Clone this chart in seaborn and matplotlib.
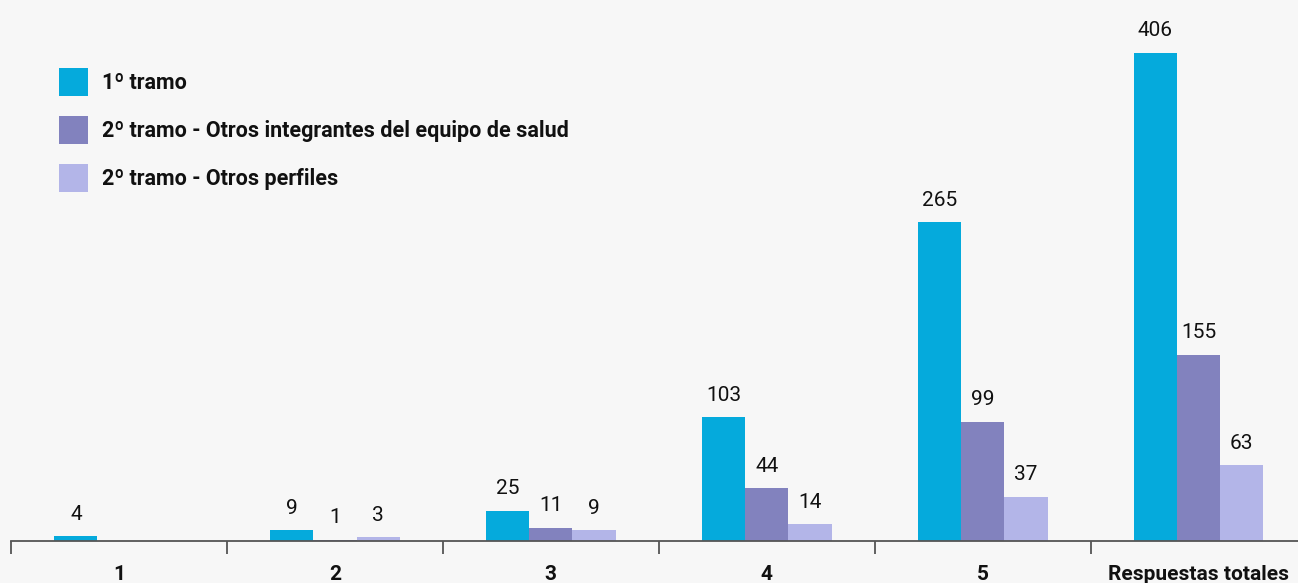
import numpy as np
import pandas as pd
import matplotlib
matplotlib.use("Agg")
import matplotlib.pyplot as plt
from matplotlib.patches import Patch
from matplotlib.ticker import FixedLocator
import seaborn as sns

categories = ["1", "2", "3", "4", "5", "Respuestas totales"]
series = ["1º tramo",
          "2º tramo - Otros integrantes del equipo de salud",
          "2º tramo - Otros perfiles"]
tramo1 = [4, 9, 25, 103, 265, 406]
tramo2_equipo = [np.nan, 1, 11, 44, 99, 155]
tramo2_otros = [np.nan, 3, 9, 14, 37, 63]
colors = ["#05AADC", "#8282BE", "#B3B5E8"]

sns.set_theme(style="white")
plt.rcParams["font.family"] = ["Roboto", "DejaVu Sans"]

df = pd.DataFrame({
    "cat": categories * 3,
    "serie": [series[0]] * 6 + [series[1]] * 6 + [series[2]] * 6,
    "val": tramo1 + tramo2_equipo + tramo2_otros,
})

bg = "#F7F7F7"
fig = plt.figure(figsize=(12.98, 5.83), dpi=100, facecolor=bg)
ax = fig.add_axes([0.0085, 0.072, 0.9915, 0.928])
ax.set_facecolor(bg)

sns.barplot(data=df, x="cat", y="val", hue="serie", order=categories,
            hue_order=series, palette=colors, width=0.6, saturation=1,
            ax=ax, legend=False, linewidth=0)

for cont in ax.containers:
    labels = []
    for bar in cont:
        h = bar.get_height()
        labels.append("" if (h is None or np.isnan(h) or h == 0) else f"{int(round(h))}")
    ax.bar_label(cont, labels=labels, padding=9, fontsize=15, color="#111111")

ax.set_ylim(0, 450)
ax.set_xlim(-0.5, 5.46)
for s in ["top", "right", "left"]:
    ax.spines[s].set_visible(False)
ax.spines["bottom"].set_color("#555555")
ax.spines["bottom"].set_linewidth(1.3)
ax.set_yticks([])
ax.set_xlabel("")
ax.set_ylabel("")
ax.set_xticks(range(len(categories)))
ax.set_xticklabels(categories, fontsize=15, fontweight="bold", color="#111111")
ax.tick_params(axis="x", which="major", length=0, pad=17)
ax.xaxis.set_minor_locator(FixedLocator(np.arange(-0.5, 5.5, 1.0)))
ax.tick_params(axis="x", which="minor", length=9, width=1.3, color="#555555",
               direction="out", bottom=True)

handles = [Patch(facecolor=c, edgecolor="none") for c in colors]
leg = ax.legend(handles, series, loc="upper left", bbox_to_anchor=(0.022, 0.91),
                frameon=False, handlelength=1.35, handleheight=1.6,
                handletextpad=0.65, labelspacing=0.95, borderpad=0.4,
                prop={"size": 15.5, "weight": "bold"})
for t in leg.get_texts():
    t.set_color("#111111")

fig.savefig("out.png", dpi=100, facecolor=bg)
